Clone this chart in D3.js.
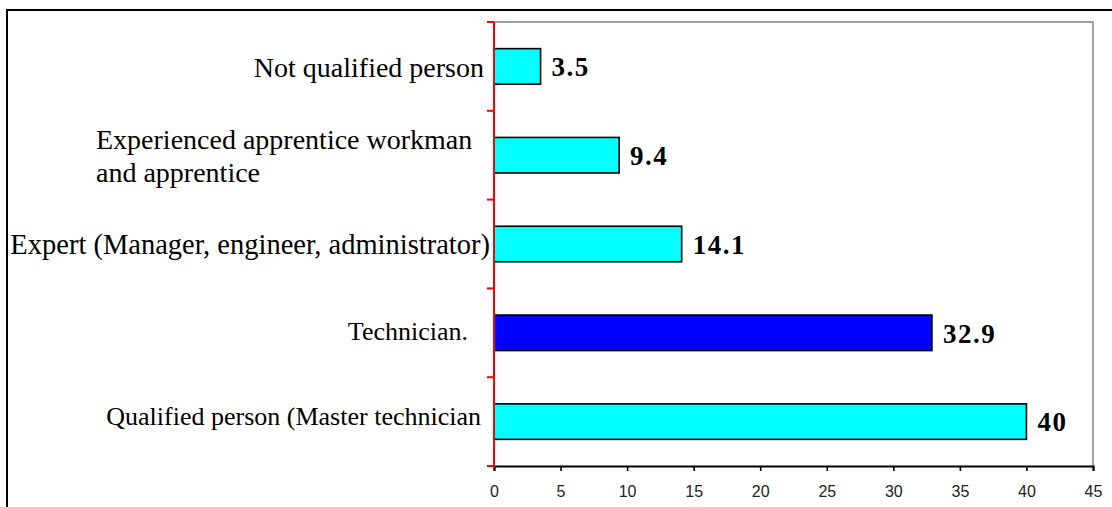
<!DOCTYPE html>
<html>
<head>
<meta charset="utf-8">
<script src="https://cdn.jsdelivr.net/npm/d3@7"></script>
<style>
  body { margin: 0; background: #fff; }
  svg { display: block; }
</style>
</head>
<body>
<div id="chart"></div>
<script>
var categories = ["Not qualified person", "Experienced apprentice workman|and apprentice", "Expert (Manager, engineer, administrator)", "Technician.", "Qualified person (Master technician"];
var values = [3.5, 9.4, 14.1, 32.9, 40];
var valueLabels = ["3.5", "9.4", "14.1", "32.9", "40"];
var xTicks = [0, 5, 10, 15, 20, 25, 30, 35, 40, 45];

var width = 1112,
    height = 507,
    plotLeft = 494, plotRight = 1093, plotTop = 22, plotBottom = 466;

var svg = d3.select("#chart")
            .append("svg")
            .attr("width", width)
            .attr("height", height);

// outer frame
svg.append("path")
   .attr("d", `M7,${height} V10 H${width}`)
   .attr("fill", "none")
   .attr("stroke", "#000")
   .attr("stroke-width", 2);

var x = d3.scaleLinear().domain([0, 45]).range([plotLeft, plotRight]);
var y = d3.scaleBand().domain(categories).range([plotTop, plotBottom]).paddingInner(0.6).paddingOuter(0.3);

// plot border (top and right, gray)
svg.append("path")
   .attr("d", `M${plotLeft},${plotTop} H${plotRight} V${plotBottom}`)
   .attr("fill", "none")
   .attr("stroke", "#a0a0a0")
   .attr("stroke-width", 2);

// bars
svg.selectAll(".bar")
   .data(values)
   .enter()
   .append("rect")
   .attr("class", "bar")
   .attr("x", x(0))
   .attr("y", (d, i) => y(categories[i]))
   .attr("width", (d) => x(d) - x(0))
   .attr("height", y.bandwidth())
   .attr("fill", (d, i) => i === 3 ? "#0000ff" : "#00ffff")
   .attr("stroke", "#000")
   .attr("stroke-width", 1.6);

// value labels
svg.selectAll(".val")
   .data(values)
   .enter()
   .append("text")
   .attr("class", "val")
   .attr("x", (d) => x(d) + 11)
   .attr("y", (d, i) => y(categories[i]) + y.bandwidth() / 2)
   .attr("dy", "0.36em")
   .style("font-family", "'Liberation Serif', 'Times New Roman', serif")
   .style("font-size", "27px")
   .style("font-weight", "bold")
   .style("letter-spacing", "1.5px")
   .style("fill", "#000")
   .text((d, i) => valueLabels[i]);

// x axis
var xAxis = svg.append("g")
   .attr("transform", `translate(0,${plotBottom})`)
   .call(d3.axisBottom(x).tickValues(xTicks).tickSize(5).tickPadding(15));
xAxis.select(".domain").attr("stroke", "#000").attr("stroke-width", 2);
xAxis.selectAll(".tick line").attr("stroke", "#000").attr("stroke-width", 1.6);
xAxis.selectAll(".tick text")
     .style("font-family", "'Liberation Sans', Arial, sans-serif")
     .style("font-size", "16px")
     .style("fill", "#222");

// y axis (red, ticks between categories)
var yTickPos = d3.range(categories.length + 1).map((i) => plotTop + i * (plotBottom - plotTop) / categories.length);
svg.append("line")
   .attr("x1", plotLeft).attr("x2", plotLeft)
   .attr("y1", plotTop).attr("y2", plotBottom + 2)
   .attr("stroke", "#ff0000")
   .attr("stroke-width", 2);
svg.selectAll(".ytick")
   .data(yTickPos)
   .enter()
   .append("line")
   .attr("class", "ytick")
   .attr("x1", plotLeft - 7).attr("x2", plotLeft)
   .attr("y1", (d) => d).attr("y2", (d) => d)
   .attr("stroke", "#ff0000")
   .attr("stroke-width", 2);

// category labels
var catSize = [28, 28, 28.5, 26, 26];
var catRight = [484, 96, 490, 468, 481];
var catNudge = [5, 5, 4, 2, -2];
svg.selectAll(".cat")
   .data(categories)
   .enter()
   .append("text")
   .attr("class", "cat")
   .attr("text-anchor", (d) => d.indexOf("|") >= 0 ? "start" : "end")
   .attr("x", (d, i) => catRight[i])
   .attr("y", (d, i) => y(d) + y.bandwidth() / 2 + catNudge[i])
   .style("font-family", "'Liberation Serif', 'Times New Roman', serif")
   .style("font-size", (d, i) => catSize[i] + "px")
   .style("fill", "#000")
   .each(function(d) {
     var lines = d.split("|");
     var t = d3.select(this);
     lines.forEach((ln, k) => {
       t.append("tspan")
        .attr("x", t.attr("x"))
        .attr("dy", k === 0 ? (0.2 - (lines.length - 1) * 0.59) + "em" : "1.18em")
        .text(ln);
     });
   });
</script>
</body>
</html>
